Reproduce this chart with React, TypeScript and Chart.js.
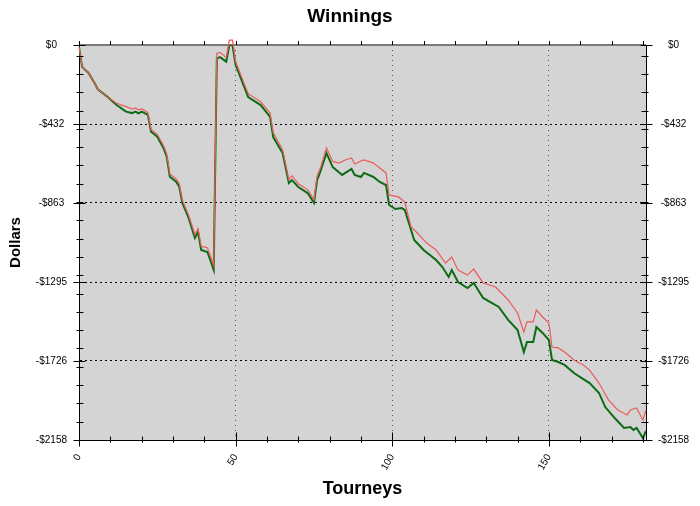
import { useEffect, useRef } from 'react';
import { Chart, registerables } from 'chart.js';

Chart.register(...registerables);

// ---- data ----
const greenTourneys = [0, 1, 2, 3, 5, 6, 9, 12, 15, 17, 18, 19, 20, 22, 23, 25, 27, 28, 29, 31, 32, 33, 35, 37, 38, 39, 41, 43, 44, 45, 47, 48, 49, 50, 51, 54, 58, 61, 62, 65, 67, 68, 70, 73, 75, 76, 77, 79, 81, 84, 87, 88, 90, 91, 94, 96, 98, 99, 101, 103, 104, 106, 107, 110, 114, 116, 118, 119, 121, 124, 126, 129, 134, 137, 140, 142, 143, 145, 146, 148, 150, 151, 153, 155, 158, 161, 163, 166, 168, 171, 174, 176, 177, 178, 180, 181];
const greenDollars = [-10, -119, -137, -151, -209, -242, -282, -328, -364, -372, -364, -373, -364, -382, -474, -501, -564, -610, -720, -747, -774, -863, -945, -1054, -1022, -1120, -1131, -1229, -73, -66, -91, 0, 0, -109, -153, -284, -328, -393, -503, -590, -754, -738, -776, -809, -863, -738, -694, -590, -667, -710, -677, -710, -721, -699, -721, -748, -765, -874, -896, -891, -901, -1011, -1065, -1120, -1175, -1213, -1267, -1229, -1295, -1328, -1300, -1382, -1431, -1502, -1557, -1677, -1623, -1623, -1541, -1573, -1612, -1721, -1732, -1748, -1792, -1825, -1847, -1901, -1978, -2038, -2092, -2087, -2103, -2092, -2147, -2109];

const redTourneys = [0, 1, 2, 3, 5, 6, 9, 12, 15, 17, 18, 19, 20, 22, 23, 25, 27, 28, 29, 31, 32, 33, 35, 37, 38, 39, 41, 43, 44, 45, 47, 48, 49, 50, 51, 54, 58, 61, 62, 65, 67, 68, 70, 73, 75, 76, 77, 79, 81, 83, 85, 87, 88, 90, 91, 94, 96, 98, 99, 102, 104, 106, 108, 111, 114, 117, 119, 121, 124, 126, 129, 133, 137, 140, 142, 143, 145, 146, 148, 150, 151, 153, 155, 158, 161, 163, 166, 169, 172, 175, 176, 178, 180, 181];
const redDollars = [-10, -119, -137, -151, -209, -242, -282, -318, -337, -350, -344, -355, -348, -370, -462, -488, -550, -595, -705, -732, -757, -848, -930, -1035, -1003, -1100, -1108, -1205, -46, -40, -68, 27, 27, -90, -135, -266, -310, -372, -480, -572, -736, -714, -758, -790, -845, -716, -675, -562, -636, -645, -628, -617, -650, -634, -628, -645, -672, -699, -819, -830, -858, -994, -1027, -1082, -1120, -1191, -1158, -1229, -1257, -1224, -1300, -1322, -1393, -1464, -1568, -1513, -1513, -1448, -1486, -1519, -1650, -1655, -1677, -1721, -1748, -1776, -1847, -1939, -1994, -2021, -1994, -1983, -2049, -1994];

const yTickValues = [0, -432, -863, -1295, -1726, -2158];
const yTickLabels = ['$0', '-$432', '-$863', '-$1295', '-$1726', '-$2158'];
const xLabelValues = [0, 50, 100, 150];
const X_MIN = 0;
const X_MAX = 181;
const Y_MIN = -2158;
const Y_MAX = 0;

const xMinorValues: number[] = [];
for (let v = 0; v <= 180; v += 10) xMinorValues.push(v);
const yMinorValues: number[] = [];
for (let v = Y_MIN; v < 0; v += 100) yMinorValues.push(v);

const FONT = '"Liberation Sans", Arial, sans-serif';

const framePlugin = {
  id: 'frame',
  beforeDraw(chart: any) {
    const { ctx, chartArea: a } = chart;
    ctx.save();
    ctx.fillStyle = '#ffffff';
    ctx.fillRect(0, 0, chart.width, chart.height);
    ctx.fillStyle = '#d4d4d4';
    ctx.fillRect(a.left, a.top, a.right - a.left, a.bottom - a.top);
    ctx.restore();
  },
  afterDraw(chart: any) {
    const { ctx, chartArea: a, scales } = chart;
    const xs = scales.x;
    const ys = scales.y;
    ctx.save();
    ctx.strokeStyle = '#000';
    ctx.lineWidth = 1;
    const line = (x1: number, y1: number, x2: number, y2: number) => {
      ctx.beginPath();
      ctx.moveTo(x1, y1);
      ctx.lineTo(x2, y2);
      ctx.stroke();
    };
    const L = Math.round(a.left) + 0.5;
    const R = Math.round(a.right) - 0.5;
    const B = Math.round(a.bottom) - 0.5;
    const T = Math.round(a.top);
    yMinorValues.forEach((v) => {
      const p = Math.round(ys.getPixelForValue(v)) + 0.5;
      line(L - 3, p, L + 4, p);
      line(R - 4, p, R + 3, p);
    });
    yTickValues.forEach((v) => {
      const p = Math.round(ys.getPixelForValue(v)) + 0.5;
      line(L - 6, p, L + 6, p);
      line(R - 5, p, R + 7, p);
    });
    xMinorValues.forEach((v) => {
      const p = Math.round(xs.getPixelForValue(v)) + 0.5;
      line(p, B - 3, p, B + 3);
      line(p, T - 4, p, T);
    });
    xLabelValues.forEach((v) => {
      const p = Math.round(xs.getPixelForValue(v)) + 0.5;
      line(p, B - 7, p, B + 7);
    });
    ctx.restore();
  },
};

export default function App() {
  const ref = useRef<HTMLCanvasElement>(null);

  useEffect(() => {
    document.body.style.margin = '0';
    const canvas = ref.current;
    if (!canvas) return;
    const chart = new Chart(canvas, {
      type: 'line',
      data: {
        datasets: [
          {
            label: 'Red',
            data: redTourneys.map((x, i) => ({ x, y: redDollars[i] })),
            borderColor: '#ec5c5c',
            borderWidth: 1.2,
            pointRadius: 0,
            tension: 0,
            fill: false,
            clip: false as any,
          },
          {
            label: 'Green',
            data: greenTourneys.map((x, i) => ({ x, y: greenDollars[i] })),
            borderColor: '#0d6b14',
            borderWidth: 2,
            pointRadius: 0,
            tension: 0,
            fill: false,
          },
        ],
      },
      options: {
        animation: false,
        responsive: false,
        events: [],
        layout: { padding: 0 },
        plugins: {
          legend: { display: false },
          title: {
            display: true,
            text: 'Winnings',
            color: '#000',
            align: 'center',
            font: { family: FONT, size: 19, weight: 'bold' },
            padding: { top: 5, bottom: 17.2 },
          },
          tooltip: { enabled: false },
        },
        scales: {
          x: {
            type: 'linear',
            position: 'bottom',
            min: X_MIN,
            max: X_MAX,
            afterBuildTicks: (s: any) => {
              s.ticks = xLabelValues.map((v) => ({ value: v }));
            },
            afterFit: (s: any) => {
              s.height = 66;
            },
            grid: {
              drawTicks: false,
              color: (c: any) => (c.tick && c.tick.value > 0 ? '#555' : 'rgba(0,0,0,0)'),
              lineWidth: 1,
            },
            border: { display: true, color: '#000', width: 1, dash: [1, 4] },
            ticks: {
              autoSkip: false,
              minRotation: 60,
              maxRotation: 60,
              padding: 12,
              color: '#000',
              font: { family: FONT, size: 10 },
              callback: (v: any) => String(v),
            },
            title: {
              display: true,
              text: 'Tourneys',
              color: '#000',
              font: { family: FONT, size: 18, weight: 'bold' },
              padding: { top: 0, bottom: 6 },
            },
          },
          y: {
            type: 'linear',
            position: 'left',
            min: Y_MIN,
            max: Y_MAX,
            afterBuildTicks: (s: any) => {
              s.ticks = yTickValues.map((v) => ({ value: v }));
            },
            afterFit: (s: any) => {
              s.width = 79;
            },
            grid: {
              drawTicks: false,
              color: (c: any) => {
                const v = c.tick ? c.tick.value : null;
                if (v === 0) return '#7a7a7a';
                if (v === Y_MIN) return 'rgba(0,0,0,0)';
                return '#000';
              },
              lineWidth: (c: any) => (c.tick && c.tick.value === 0 ? 2 : 1),
            },
            border: {
              display: true,
              color: '#000',
              width: 1,
              dash: (c: any) => (c.tick && c.tick.value === 0 ? [] : [2, 3]),
            },
            ticks: {
              crossAlign: 'center',
              padding: 12,
              color: '#000',
              font: { family: FONT, size: 10 },
              callback: (v: any) => {
                const i = yTickValues.indexOf(Number(v));
                return i >= 0 ? yTickLabels[i] : '';
              },
            },
            title: {
              display: true,
              text: 'Dollars',
              color: '#000',
              font: { family: FONT, size: 15, weight: 'bold' },
              padding: { top: 7, bottom: 0 },
            },
          },
          y2: {
            type: 'linear',
            position: 'right',
            min: Y_MIN,
            max: Y_MAX,
            afterBuildTicks: (s: any) => {
              s.ticks = yTickValues.map((v) => ({ value: v }));
            },
            afterFit: (s: any) => {
              s.width = 54;
            },
            grid: { display: true, drawOnChartArea: false, drawTicks: false },
            border: { display: true, color: '#000', width: 1 },
            ticks: {
              crossAlign: 'center',
              padding: 12,
              color: '#000',
              font: { family: FONT, size: 10 },
              callback: (v: any) => {
                const i = yTickValues.indexOf(Number(v));
                return i >= 0 ? yTickLabels[i] : '';
              },
            },
          },
        },
      } as any,
      plugins: [framePlugin],
    });
    return () => chart.destroy();
  }, []);

  return (
    <div style={{ width: 700, height: 506, background: '#fff' }}>
      <canvas ref={ref} width={700} height={506} style={{ display: 'block' }} />
    </div>
  );
}
